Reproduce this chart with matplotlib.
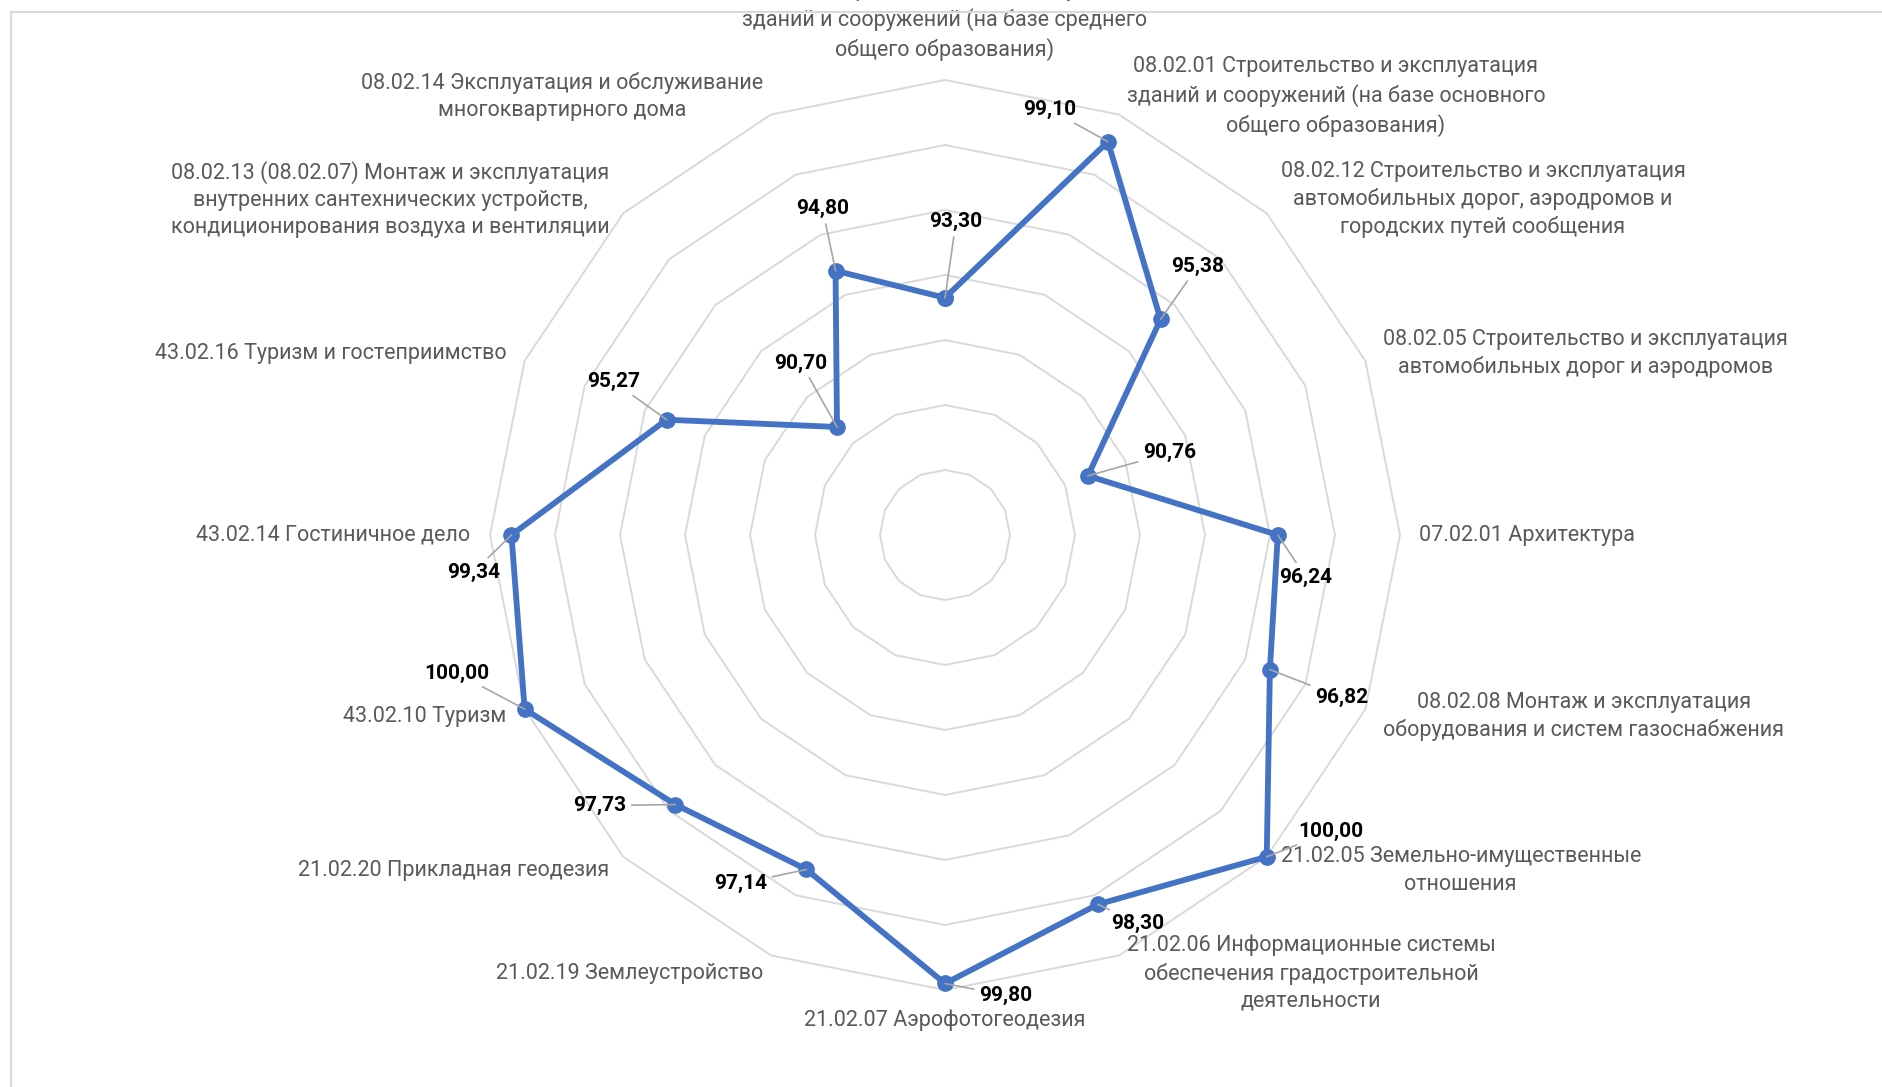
import numpy as np
import matplotlib
matplotlib.use('Agg')
import matplotlib.pyplot as plt
from matplotlib.patches import Rectangle

plt.rcParams['font.family'] = ['Roboto', 'DejaVu Sans']

# Categories clockwise from the top
categories = [
    '08.02.01 Строительство и эксплуатация\nзданий и сооружений (на базе среднего\nобщего образования)',
    '08.02.01 Строительство и эксплуатация\nзданий и сооружений (на базе основного\nобщего образования)',
    '08.02.12 Строительство и эксплуатация\nавтомобильных дорог, аэродромов и\nгородских путей сообщения',
    '08.02.05 Строительство и эксплуатация\nавтомобильных дорог и аэродромов',
    '07.02.01 Архитектура',
    '08.02.08 Монтаж и эксплуатация\nоборудования и систем газоснабжения',
    '21.02.05 Земельно-имущественные\nотношения',
    '21.02.06 Информационные системы\nобеспечения градостроительной\nдеятельности',
    '21.02.07 Аэрофотогеодезия',
    '21.02.19 Землеустройство',
    '21.02.20 Прикладная геодезия',
    '43.02.10 Туризм',
    '43.02.14 Гостиничное дело',
    '43.02.16 Туризм и гостеприимство',
    '08.02.13 (08.02.07) Монтаж и эксплуатация\nвнутренних сантехнических устройств,\nкондиционирования воздуха и вентиляции',
    '08.02.14 Эксплуатация и обслуживание\nмногоквартирного дома',
]
values = [93.30, 99.10, 95.38, 90.76, 96.24, 96.82, 100.00, 98.30,
          99.80, 97.14, 97.73, 100.00, 99.34, 95.27, 90.70, 94.80]

r_min, r_max = 86, 100
ring_values = [88, 90, 92, 94, 96, 98, 100]

# data label offsets from the point (pixels)
label_offsets = [(11, 76), (-58, 32), (37, 53), (82, 23), (28, -42), (72, -28),
                 (64, 25), (40, -19), (61, -12), (-66, -14), (-76, -1), (-68, 36),
                 (-38, -37), (-53, 38), (-36, 64), (-13, 62)]

blue = '#4472C4'
grid_c = '#D9D9D9'
text_c = '#595959'

W, H = 1883, 1087
fig = plt.figure(figsize=(W / 100, H / 100), dpi=100)
cx, cy, R = 945, 1087 - 535, 455
ax = fig.add_axes([(cx - R) / W, (cy - R) / H, 2 * R / W, 2 * R / H], projection='polar')
ax.set_theta_zero_location('N')
ax.set_theta_direction(-1)
ax.set_ylim(r_min, r_max)
ax.grid(False)
ax.set_xticks([])
ax.set_yticks([])
ax.spines['polar'].set_visible(False)

n = len(categories)
theta = np.arange(n) * 2 * np.pi / n
theta_closed = np.append(theta, theta[0])

# polygon grid rings
for rv in ring_values:
    ax.plot(theta_closed, [rv] * (n + 1), color=grid_c, lw=1.4, clip_on=False, zorder=1)

# series
vals_closed = np.append(values, values[0])
ax.plot(theta_closed, vals_closed, color=blue, lw=4.2, marker='o', markersize=11,
        clip_on=False, zorder=3)

# category labels
r_lab = r_max + 0.6
for t, name in zip(theta, categories):
    deg = np.degrees(t) % 360
    if np.isclose(deg, 0):
        ha, va = 'center', 'bottom'
    elif np.isclose(deg, 180):
        ha, va = 'center', 'top'
    elif deg < 180:
        ha, va = 'left', 'center'
    else:
        ha, va = 'right', 'center'
    ax.text(t, r_lab, name, ha=ha, va=va, multialignment='center', fontsize=15.5,
            color=text_c, clip_on=False, linespacing=1.38)

# data labels with leader lines
for t, v, off in zip(theta, values, label_offsets):
    ax.annotate(f'{v:.2f}'.replace('.', ','), xy=(t, v), xytext=off,
                textcoords='offset pixels', ha='center', va='center',
                fontsize=15, fontweight='bold', color='black', zorder=4,
                annotation_clip=False,
                arrowprops=dict(arrowstyle='-', color='#A6A6A6', lw=1.2,
                                shrinkA=2, shrinkB=0))

# chart area border
fig.add_artist(Rectangle((11 / W, -0.05), 1.1, 1 - 12 / H + 0.05, transform=fig.transFigure,
                         fill=False, edgecolor=grid_c, lw=1.5))

fig.savefig('out.png', dpi=100, facecolor='white')
